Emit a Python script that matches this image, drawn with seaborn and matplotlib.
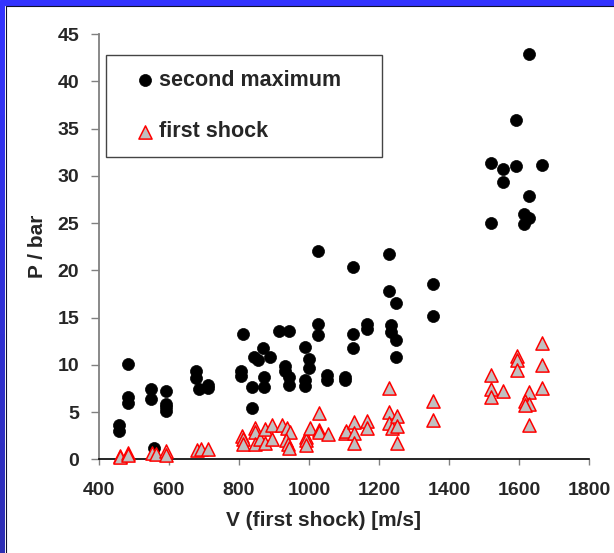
import numpy as np
import pandas as pd
import matplotlib.pyplot as plt
import seaborn as sns
from matplotlib.patches import Rectangle
from matplotlib.lines import Line2D
from matplotlib.colors import LinearSegmentedColormap

# second maximum (black circles)
v_second = [458, 458, 485, 485, 485,
            549, 549, 559,
            592, 592, 592, 592,
            678, 678, 687, 711, 711,
            805, 805, 811, 838, 838, 844, 854,
            870, 872, 872, 889,
            915, 944, 933, 933, 944, 944,
            990, 990, 990, 1000, 1000,
            1027, 1027, 1027, 1051, 1051,
            1102, 1102,
            1127, 1127, 1127, 1165, 1165,
            1229, 1229, 1234, 1234, 1249, 1249, 1249,
            1353, 1353,
            1520, 1553, 1591, 1664, 1553, 1591, 1628, 1628, 1615, 1628, 1520, 1615]
p_second = [3.6, 3.0, 10.1, 6.6, 6.0,
            7.4, 6.4, 1.2,
            7.2, 5.9, 5.5, 5.1,
            9.3, 8.6, 7.4, 7.9, 7.6,
            9.3, 8.8, 13.3, 5.4, 7.7, 10.8, 10.5,
            11.8, 8.7, 7.7, 10.8,
            13.6, 13.6, 9.9, 9.3, 8.7, 7.9,
            11.9, 8.4, 7.8, 10.6, 9.7,
            22.0, 14.3, 13.2, 8.9, 8.4,
            8.7, 8.4,
            20.4, 13.3, 11.8, 14.3, 13.8,
            21.7, 17.8, 14.2, 13.5, 16.6, 12.6, 10.8,
            18.6, 15.2,
            31.4, 30.7, 31.1, 31.2, 29.4, 35.9, 42.9, 27.9, 26.0, 25.5, 25.0, 24.9]

# first shock (grey triangles)
v_first = [460, 461, 483, 485,
           551, 565, 591, 591,
           680, 692, 713,
           808, 813, 812, 846, 846, 846, 860, 875, 875,
           894, 896, 922, 937, 946, 936, 941, 944,
           992, 992, 991, 1002, 1028, 1028, 1030, 1054,
           1103, 1106, 1129, 1129, 1129, 1166, 1166,
           1229, 1229, 1229, 1236, 1250, 1250, 1250,
           1354, 1354,
           1521, 1521, 1521, 1555, 1593, 1593, 1593,
           1629, 1617, 1629, 1617, 1629,
           1666, 1666, 1666]
p_first = [0.3, 0.2, 0.7, 0.5,
           0.7, 0.6, 0.9, 0.5,
           1.0, 1.1, 1.1,
           2.5, 2.2, 1.6, 3.3, 2.9, 1.6, 2.2, 3.2, 1.7,
           3.6, 2.2, 3.6, 3.3, 2.9, 2.0, 1.6, 1.2,
           2.4, 2.0, 1.5, 3.3, 4.9, 3.1, 2.9, 2.7,
           2.8, 3.0, 3.9, 2.8, 1.7, 4.1, 3.3,
           7.6, 5.0, 3.8, 3.3, 4.6, 3.5, 1.7,
           6.2, 4.2,
           8.9, 7.4, 6.6, 7.2, 10.9, 10.5, 9.5,
           7.1, 6.2, 5.9, 5.7, 3.6,
           12.3, 10.0, 7.6]

x_ticks = [400, 600, 800, 1000, 1200, 1400, 1600, 1800]
y_ticks = [0, 5, 10, 15, 20, 25, 30, 35, 40, 45]

sns.set_style("white")
plt.rcParams['font.family'] = ['Liberation Sans', 'DejaVu Sans']
plt.rcParams['font.weight'] = 'bold'

fig = plt.figure(figsize=(6.14, 5.53), dpi=100)
ax = fig.add_axes([0.1607, 0.1694, 0.799, 0.7687])

df_second = pd.DataFrame({'V': v_second, 'P': p_second})
df_first = pd.DataFrame({'V': v_first, 'P': p_first})

sns.scatterplot(data=df_second, x='V', y='P', ax=ax, marker='o', s=75,
                color='black', edgecolor='black', linewidth=0.5,
                label='second maximum', clip_on=False, zorder=3)
sns.scatterplot(data=df_first, x='V', y='P', ax=ax, marker='^', s=90,
                color='#c0c0c0', edgecolor='red', linewidth=1.1,
                label='first shock', clip_on=False, zorder=4)

ax.set_xlim(400, 1800)
ax.set_ylim(0, 45)
ax.set_xticks(x_ticks)
ax.set_yticks(y_ticks)

for side in ['top', 'right']:
    ax.spines[side].set_visible(False)
ax.spines['left'].set_color('#808080')
ax.spines['left'].set_linewidth(1.3)
ax.spines['bottom'].set_color('black')
ax.spines['bottom'].set_linewidth(1.2)

ax.tick_params(axis='y', left=True, direction='out', length=5.5, width=1,
               color='#808080', pad=8.5, labelsize=14)
ax.tick_params(axis='x', bottom=True, direction='out', length=4.5, width=1,
               color='#808080', pad=12, labelsize=14)

ax.set_xlabel('V (first shock) [m/s]', fontsize=15, fontweight='bold')
ax.set_ylabel('P / bar', fontsize=15, fontweight='bold')
ax.xaxis.set_label_coords(0.458, -0.121)
ax.yaxis.set_label_coords(-0.105, 0.5)

leg = ax.legend(loc='upper left', bbox_to_anchor=(0.0149, 0.7198, 0.5626, 0.2313),
                mode='expand', borderaxespad=0, fontsize=15.5, frameon=True,
                fancybox=False, edgecolor='#444444', framealpha=1,
                labelspacing=1.4, handlelength=2.27, handletextpad=-0.5,
                borderpad=0.7)
leg.get_frame().set_linewidth(1.0)

# slide border: blue band on top, gradient band on the left
fig.patches.append(Rectangle((0, 1 - 5 / 553), 1, 5 / 553, transform=fig.transFigure,
                             color='#3333ff', zorder=0))
bax = fig.add_axes([0, 0, 5 / 614, 1 - 5 / 553])
grad = np.linspace(0, 1, 256).reshape(-1, 1)
cmap = LinearSegmentedColormap.from_list('border', ['#3333ff', '#2e2eb4'])
bax.imshow(grad, aspect='auto', cmap=cmap)
bax.axis('off')
fig.add_artist(Line2D([5.5 / 614, 1], [1 - 5.5 / 553, 1 - 5.5 / 553],
                      transform=fig.transFigure, color='#101030', lw=0.8))
fig.add_artist(Line2D([5.5 / 614, 5.5 / 614], [0, 1 - 5.5 / 553],
                      transform=fig.transFigure, color='#101030', lw=0.8))

fig.savefig('out.png', dpi=100)
